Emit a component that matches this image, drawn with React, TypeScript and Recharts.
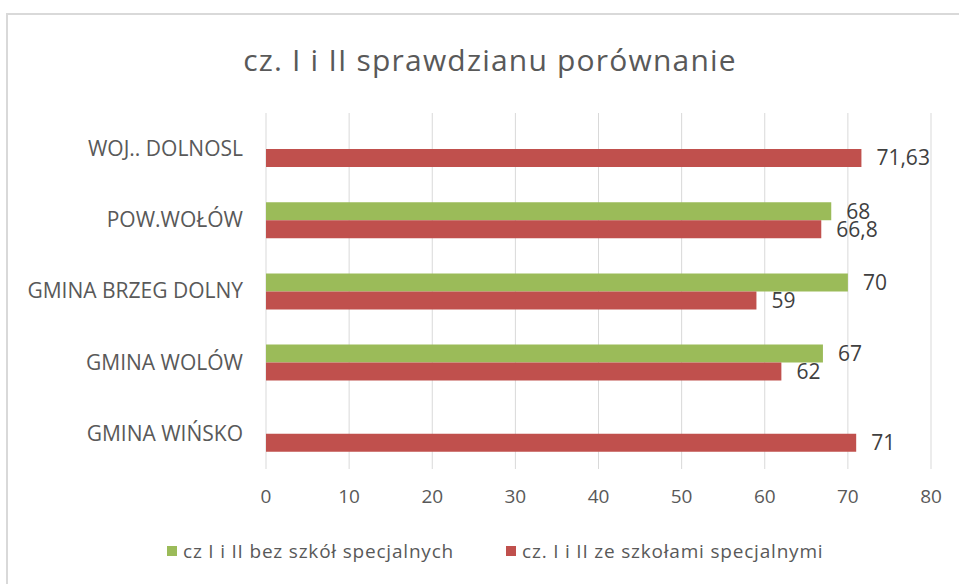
import {
  BarChart,
  Bar,
  XAxis,
  YAxis,
  CartesianGrid,
  LabelList,
  Legend,
} from 'recharts'

const categories = [
  'WOJ.. DOLNOSL',
  'POW.WOŁÓW',
  'GMINA BRZEG DOLNY',
  'GMINA WOLÓW',
  'GMINA WIŃSKO',
]
const bezSpecjalnych: (number | null)[] = [null, 68, 70, 67, null]
const zeSpecjalnymi: (number | null)[] = [71.63, 66.8, 59, 62, 71]
const xTicks = [0, 10, 20, 30, 40, 50, 60, 70, 80]

const SERIES = [
  { key: 'bez', name: 'cz I i II bez szkół specjalnych', color: '#9BBB59' },
  { key: 'ze', name: 'cz. I i II ze szkołami specjalnymi', color: '#C0504D' },
]

const FONT = '"Open Sans", sans-serif'
const TEXT = '#595959'

const data = categories.map((c, i) => ({
  name: c,
  bez: bezSpecjalnych[i],
  ze: zeSpecjalnymi[i],
}))

// Excel style labels use a decimal comma
const fmt = (v: unknown) =>
  v === null || v === undefined ? '' : String(v).replace('.', ',')

const renderLegend = () => (
  <div
    style={{
      display: 'flex',
      justifyContent: 'flex-start',
      paddingLeft: 167,
      gap: 52,
      fontFamily: FONT,
      fontSize: 19,
      letterSpacing: 0.8,
      color: TEXT,
      height: 30,
      alignItems: 'center',
    }}
  >
    {SERIES.map((s) => (
      <div key={s.key} style={{ display: 'flex', alignItems: 'center' }}>
        <span
          style={{
            display: 'inline-block',
            width: 10,
            height: 10,
            background: s.color,
            marginRight: 6,
          }}
        />
        {s.name}
      </div>
    ))}
  </div>
)

export default function App() {
  return (
    <div
      style={{
        position: 'absolute',
        left: 0,
        top: 0,
        width: 959,
        height: 584,
        overflow: 'hidden',
        background: '#fff',
      }}
    >
      <div
        style={{
          position: 'absolute',
          left: 6,
          top: 13,
          width: 1000,
          height: 700,
          border: '2px solid #d9d9d9',
        }}
      />
      <div
        style={{
          position: 'absolute',
          left: 0,
          width: 980,
          top: 39,
          textAlign: 'center',
          fontFamily: FONT,
          fontSize: 30,
          letterSpacing: 1.2,
          color: TEXT,
        }}
      >
        cz. I i II sprawdzianu porównanie
      </div>
      <div style={{ position: 'absolute', left: 0, top: 0 }}>
        <BarChart
          width={959}
          height={584}
          data={data}
          layout="vertical"
          margin={{ top: 113, right: 28, left: 0, bottom: 18 }}
          barSize={18}
          barGap={0}
        >
          <CartesianGrid horizontal={false} stroke="#d9d9d9" />
          <XAxis
            type="number"
            domain={[0, 80]}
            ticks={xTicks}
            axisLine={false}
            tickLine={false}
            tickSize={0}
            tickMargin={21}
            height={67}
            tick={{ fill: TEXT, fontSize: 19, fontFamily: FONT }}
          />
          <YAxis
            type="category"
            dataKey="name"
            width={266}
            axisLine={false}
            tickLine={false}
            tickSize={0}
            tickMargin={23}
            tick={{ fill: TEXT, fontSize: 21, fontFamily: FONT }}
          />
          <Legend verticalAlign="bottom" content={renderLegend} />
          {SERIES.map((s) => (
            <Bar
              key={s.key}
              dataKey={s.key}
              name={s.name}
              fill={s.color}
              isAnimationActive={false}
            >
              <LabelList
                dataKey={s.key}
                position="right"
                offset={15}
                formatter={fmt}
                fill="#404040"
                fontSize={21}
                fontFamily={FONT}
              />
            </Bar>
          ))}
        </BarChart>
      </div>
    </div>
  )
}
